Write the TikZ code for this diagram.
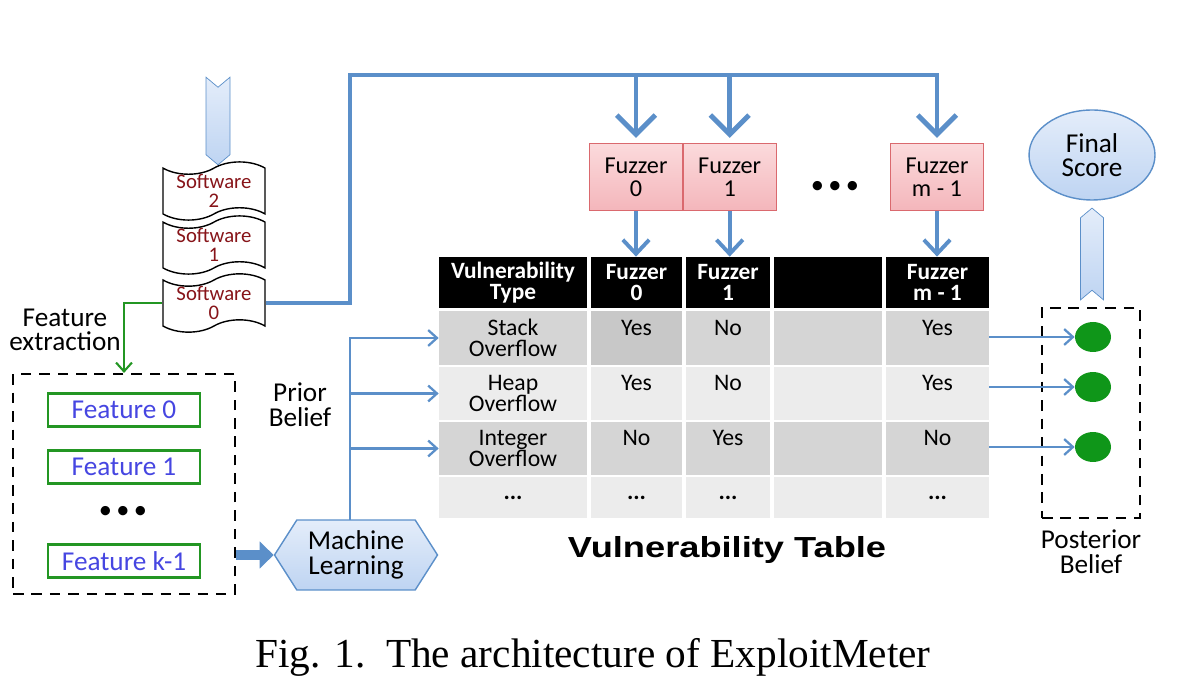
\documentclass[tikz,border=0pt]{standalone}
\usepackage{fontspec}
\setmainfont{Carlito}
\newfontfamily\captionfont{Liberation Serif}
\newfontfamily\titlefont{Liberation Sans}
\usetikzlibrary{arrows.meta,positioning,shapes.geometric,shapes.symbols}

\definecolor{lineblue}{RGB}{91,143,201}
\definecolor{paleblue}{RGB}{205,222,245}
\definecolor{paletop}{RGB}{228,237,250}
\definecolor{palebot}{RGB}{190,212,242}
\definecolor{fuzztop}{RGB}{251,218,220}
\definecolor{fuzzbot}{RGB}{244,182,187}
\definecolor{fuzzline}{RGB}{218,105,110}
\definecolor{softred}{RGB}{135,20,25}
\definecolor{featgreen}{RGB}{35,150,35}
\definecolor{feattext}{RGB}{70,70,225}
\definecolor{dotgreen}{RGB}{15,150,25}
\definecolor{celldark}{RGB}{213,213,213}
\definecolor{celldarker}{RGB}{200,200,200}
\definecolor{celllight}{RGB}{236,236,236}

\tikzset{
  fat/.style={line width=2.8pt, draw=lineblue, -{Straight Barb[length=11pt,width=22pt]}, shorten >=3pt},
  mid/.style={line width=2.2pt, draw=lineblue, -{Straight Barb[length=8pt,width=15pt]}},
  slim/.style={line width=1.3pt, draw=lineblue, -{Straight Barb[length=5pt,width=9pt]}},
  greenarr/.style={line width=1.2pt, draw=featgreen, -{Straight Barb[length=5pt,width=9pt]}},
  blockarr/.style={line width=6pt, draw=lineblue, -{Triangle[length=8pt,width=15pt]}},
  software/.style={tape, draw, thick, fill=white, tape bend top=in and out, tape bend bottom=in and out,
    tape bend height=7pt, minimum width=2.04cm, minimum height=0.95cm, inner sep=0pt, align=center,
    text=softred, font=\fontsize{11.8}{11}\selectfont},
  fuzzer/.style={rectangle, draw=fuzzline, top color=fuzztop, bottom color=fuzzbot, minimum width=1.86cm,
    minimum height=1.34cm, align=center, font=\fontsize{13.8}{13}\selectfont},
  cell/.style={rectangle, inner sep=0pt, align=center, font=\fontsize{13.5}{12}\selectfont},
  hdr/.style={cell, fill=black, text=white, minimum height=1.02cm, font=\bfseries\fontsize{13.3}{12}\selectfont},
  feature/.style={rectangle, draw=featgreen, line width=1.3pt, text=feattext, minimum width=3.04cm,
    minimum height=0.66cm, font=\fontsize{15.5}{15}\selectfont},
  dashbox/.style={rectangle, draw, line width=1.2pt, dash pattern=on 6pt off 4.5pt},
  dot/.style={ellipse, fill=dotgreen, minimum width=0.72cm, minimum height=0.6cm, inner sep=0pt},
  blockarrow/.style={signal, draw=lineblue, top color=paletop, bottom color=palebot, inner sep=0pt},
  txt/.style={align=center, font=\fontsize{15.5}{14}\selectfont},
  bigdots/.style={font=\fontsize{15}{15}\selectfont}
}

\begin{document}
\begin{tikzpicture}[x=0.02cm, y=-0.02cm]
  \useasboundingbox (0,0) rectangle (1179,688);

  % software inputs
  \node[blockarrow, signal to=south, signal from=north, signal pointer angle=100,
    minimum width=0.48cm, minimum height=1.35cm] (inarrow) at (218,121) {};
  \node[software] (sw2) at (214,191) {Software\\2};
  \node[software] (sw1) at (214,245) {Software\\1};
  \node[software] (sw0) at (214,303) {Software\\0};

  % fuzzers
  \node[fuzzer] (fz0) at (636,177) {Fuzzer\\0};
  \node[fuzzer, right=0pt of fz0] (fz1) {Fuzzer\\1};
  \node[fuzzer] (fzm) at (937,177) {Fuzzer\\m - 1};
  \node[bigdots] (fzdots) at (835,187) {\textbullet\,\textbullet\,\textbullet};

  \coordinate (busL) at (350,75);
  \coordinate (busR) at (937,75);
  \draw[fat] (sw0.east) -| (busL) -- (busR) -- (fzm.north);
  \draw[fat] (busL -| fz0.north) -- (fz0.north);
  \draw[fat] (busL -| fz1.north) -- (fz1.north);

  % vulnerability table
  \node[hdr, minimum width=2.96cm] (h0) at (513,282.5) {Vulnerability\\Type};
  \node[hdr, minimum width=1.82cm] (h1) at (636.5,282.5) {Fuzzer\\0};
  \node[hdr, minimum width=1.68cm] (h2) at (728,282.5) {Fuzzer\\1};
  \node[hdr, minimum width=2.16cm] (h3) at (828,282.5) {};
  \node[hdr, minimum width=2.06cm] (h4) at (937.5,282.5) {Fuzzer\\m - 1};

  \foreach \r/\yc/\rh/\shade/\bshade/\ta/\tb/\tc/\te in {
      1/338/1.08/celldark/celldarker/{Stack\\Overflow}/Yes/No/Yes,
      2/393.5/1.06/celllight/celllight/{Heap\\Overflow}/Yes/No/Yes,
      3/448.5/1.06/celldark/celldark/{Integer\\Overflow}/No/Yes/No}{
    \node[cell, fill=\shade, minimum width=2.96cm, minimum height=\rh cm] (r\r a) at (513,\yc) {\ta};
    \node[cell, fill=\bshade, minimum width=1.82cm, minimum height=\rh cm] (r\r b) at (636.5,\yc) {\tb\\\mbox{}};
    \node[cell, fill=\shade, minimum width=1.68cm, minimum height=\rh cm] (r\r c) at (728,\yc) {\tc\\\mbox{}};
    \node[cell, fill=\shade, minimum width=2.16cm, minimum height=\rh cm] (r\r d) at (828,\yc) {};
    \node[cell, fill=\shade, minimum width=2.06cm, minimum height=\rh cm] (r\r e) at (937.5,\yc) {\te\\\mbox{}};
  }
  \node[cell, fill=celllight, minimum width=2.96cm, minimum height=0.82cm] (r4a) at (513,497.5) {\textbf{...}};
  \node[cell, fill=celllight, minimum width=1.82cm, minimum height=0.82cm] (r4b) at (636.5,497.5) {\textbf{...}};
  \node[cell, fill=celllight, minimum width=1.68cm, minimum height=0.82cm] (r4c) at (728,497.5) {\textbf{...}};
  \node[cell, fill=celllight, minimum width=2.16cm, minimum height=0.82cm] (r4d) at (828,497.5) {};
  \node[cell, fill=celllight, minimum width=2.06cm, minimum height=0.82cm] (r4e) at (937.5,497.5) {\textbf{...}};
  \node[font=\titlefont\bfseries\fontsize{16.5}{16}\selectfont, xscale=1.25] (ttitle) at (727,550) {Vulnerability Table};

  \draw[mid] (fz0.south) -- (fz0.south |- h1.north);
  \draw[mid] (fz1.south) -- (fz1.south |- h2.north);
  \draw[mid] (fzm.south) -- (fzm.south |- h4.north);

  % features
  \node[dashbox, minimum width=4.44cm, minimum height=4.4cm] (featbox) at (124,484) {};
  \node[feature] (f0) at (124,410) {Feature 0};
  \node[feature] (f1) at (124,467) {Feature 1};
  \node[bigdots] (fdots) at (123,512) {\textbullet\,\textbullet\,\textbullet};
  \node[feature] (fk) at (124,561) {Feature k-1};
  \node[txt] (fextr) at (65,330) {Feature\\extraction};
  \draw[greenarr] (sw0.west) -| (featbox.north);

  % machine learning
  \node[blockarrow, signal to=west and east, signal pointer angle=115, thick,
    minimum width=3.26cm, minimum height=1.4cm, txt] (ml) at (356,555) {Machine\\Learning};
  \draw[blockarr] (featbox.east |- ml.west) -- (ml.west);
  \node[txt] (prior) at (300,405) {Prior\\Belief};
  \coordinate (pbase) at (350,520);
  \draw[slim] (pbase) |- (r1a.west);
  \draw[slim] (pbase |- r2a.west) -- (r2a.west);
  \draw[slim] (pbase |- r3a.west) -- (r3a.west);

  % posterior
  \node[dashbox, minimum width=1.96cm, minimum height=4.2cm] (postbox) at (1091,413) {};
  \node[dot] (d1) at (1093,337) {};
  \node[dot] (d2) at (1093,387) {};
  \node[dot] (d3) at (1093,447) {};
  \draw[slim] (r1e.east |- d1) -- (d1.west);
  \draw[slim] (r2e.east |- d2) -- (d2.west);
  \draw[slim] (r3e.east |- d3) -- (d3.west);
  \node[txt] (post) at (1091,552) {Posterior\\Belief};
  \node[blockarrow, signal to=north, signal from=south, signal pointer angle=100,
    minimum width=0.46cm, minimum height=1.45cm] (uparrow) at (1092,254) {};
  \node[ellipse, draw=lineblue, top color=paletop, bottom color=palebot, thick, minimum width=2.52cm,
    minimum height=1.8cm, inner sep=0pt, txt] (final) at (1092,155) {Final\\Score};

  % caption
  \node[font=\captionfont\fontsize{23.5}{24}\selectfont] (cap) at (593,657) {Fig. 1.\ \ The architecture of ExploitMeter};
\end{tikzpicture}
\end{document}
